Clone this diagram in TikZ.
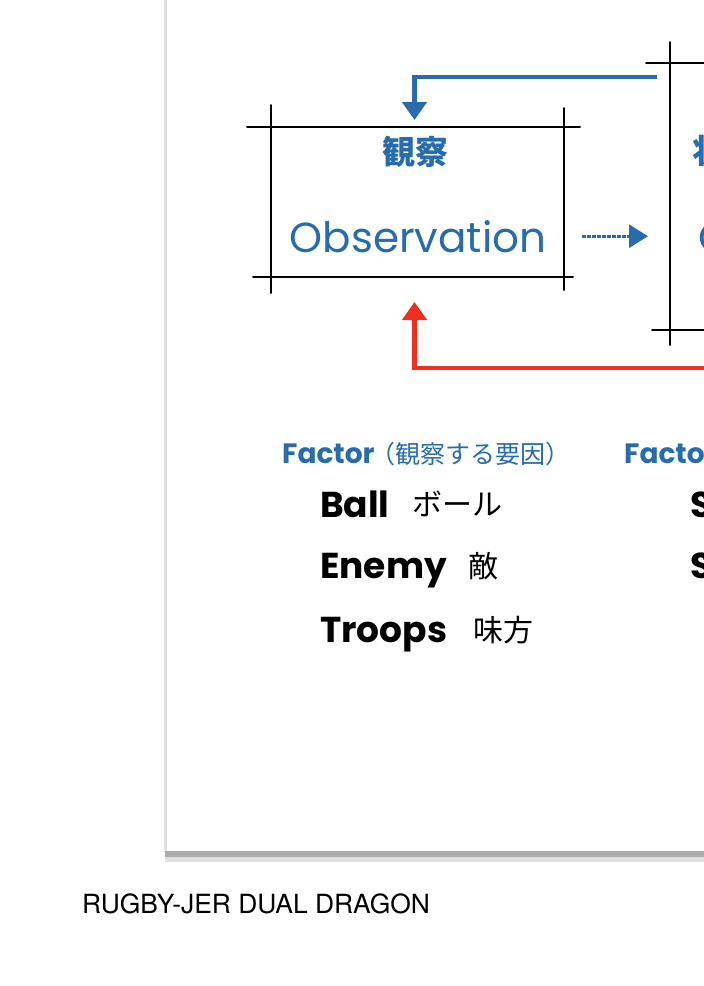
\documentclass[tikz,border=0pt]{standalone}
\usepackage{fontspec}
\usetikzlibrary{calc,arrows.meta,positioning}
\newfontfamily\handfont{Poppins}
\newfontfamily\jafont{Noto Sans CJK JP}
\newfontfamily\capfont{TeX Gyre Heros}
\definecolor{obsblue}{RGB}{40,108,176}
\definecolor{loopred}{RGB}{240,45,30}

\begin{document}
\begin{tikzpicture}[x=1pt,y=-1pt,
    sketch/.style={line width=2pt, black, line cap=round},
    frame/.style={inner sep=0pt, outer sep=0pt},
    bluearrow/.style={line width=4.5pt, obsblue, -{Triangle[width=24pt,length=18pt]}},
    redarrow/.style={line width=4.5pt, loopred, -{Triangle[width=24pt,length=18pt]}},
    dasharrow/.style={line width=3pt, obsblue, dash pattern=on 4pt off 1pt, -{Triangle[width=23pt,length=19pt]}},
    jatitle/.style={obsblue, font=\jafont\bfseries\fontsize{33}{36}\selectfont},
    entitle/.style={obsblue, font=\handfont\fontsize{42}{46}\selectfont},
    factor/.style={obsblue, font=\handfont\bfseries\fontsize{28}{32}\selectfont, anchor=base west, inner sep=0pt},
    factorja/.style={obsblue, font=\jafont\fontsize{25}{28}\selectfont, anchor=base west, inner sep=0pt},
    item/.style={font=\handfont\bfseries\fontsize{36}{40}\selectfont, anchor=base west, inner sep=0pt},
    itemja/.style={font=\jafont\fontsize{30}{34}\selectfont, anchor=base west, inner sep=0pt}]
    \useasboundingbox (0,0) rectangle (704,986);
    \clip (0,0) rectangle (704,986);

    % 卡片边缘与阴影
    \draw[black!12, line width=3pt] (165,0) -- (165,852);
    \fill[black!32] (165,851) rectangle (710,857);
    \fill[black!12] (165,857) rectangle (710,862);

    % 两个框 (只画边线)
    \node[frame, minimum width=293pt, minimum height=150pt] (obs) at (417.5,202) {};
    \node[frame, minimum width=293pt, minimum height=267pt] (orient) at (816.5,196.5) {};

    % 观察框
    \draw[sketch] ($(obs.north west)+(-24,0)$) -- ($(obs.north east)+(16,0)$);
    \draw[sketch] ($(obs.south west)+(-18,0)$) -- ($(obs.south east)+(9,0)$);
    \draw[sketch] ($(obs.north west)+(0,-22)$) -- ($(obs.south west)+(0,16)$);
    \draw[sketch] ($(obs.north east)+(0,-19)$) -- ($(obs.south east)+(0,13)$);

    % 右边的框
    \draw[sketch] ($(orient.north west)+(-24,0)$) -- (orient.north east);
    \draw[sketch] ($(orient.south west)+(-18,0)$) -- (orient.south east);
    \draw[sketch] ($(orient.north west)+(0,-21)$) -- ($(orient.south west)+(0,15)$);

    % 框内文字
    \node[jatitle] (obsja) at (415,152) {観察};
    \node[entitle, anchor=base] (obsen) at (418,252) {Observation};
    \node[jatitle, anchor=base west, inner sep=0pt] (orija) at (692,163) {状況判断};
    \node[entitle, anchor=base west, inner sep=0pt] (orien) at (698,252) {Orientation};

    % 箭头
    \coordinate (fbstart) at (657,77);
    \coordinate (redstart) at (720,368);
    \draw[bluearrow] (fbstart) -| ($(obs.north)+(-3,-7)$);
    \draw[redarrow] (redstart) -| ($(obs.south)+(-3,25)$);
    \draw[dasharrow] ($(obs.east |- obsen)+(18,0)$) -- ($(orient.west |- obsen)+(-22,0)$);

    % Factor 列表
    \node[factor] (fac) at (282,463) {Factor};
    \node[factorja] (facja) at (370,463) {（観察する要因）};
    \node[item] (ball) at (320,517) {Ball};
    \node[itemja] (ballja) at (412,515) {ボール};
    \node[item] (enemy) at (320,578) {Enemy};
    \node[itemja] (enemyja) at (468,577) {敵};
    \node[item] (troops) at (320,642) {Troops};
    \node[itemja] (troopsja) at (473,641) {味方};

    % 第二列 (被裁掉)
    \node[factor] (facb) at (624,463) {Factor};
    \node[item] (sa) at (690,517) {S};
    \node[item] (sb) at (690,578) {S};

    % 标题
    \node[font=\capfont\fontsize{26.4}{30}\selectfont, anchor=base west, inner sep=0pt] (caption) at (82,913) {RUGBY-JER DUAL DRAGON};
\end{tikzpicture}
\end{document}
